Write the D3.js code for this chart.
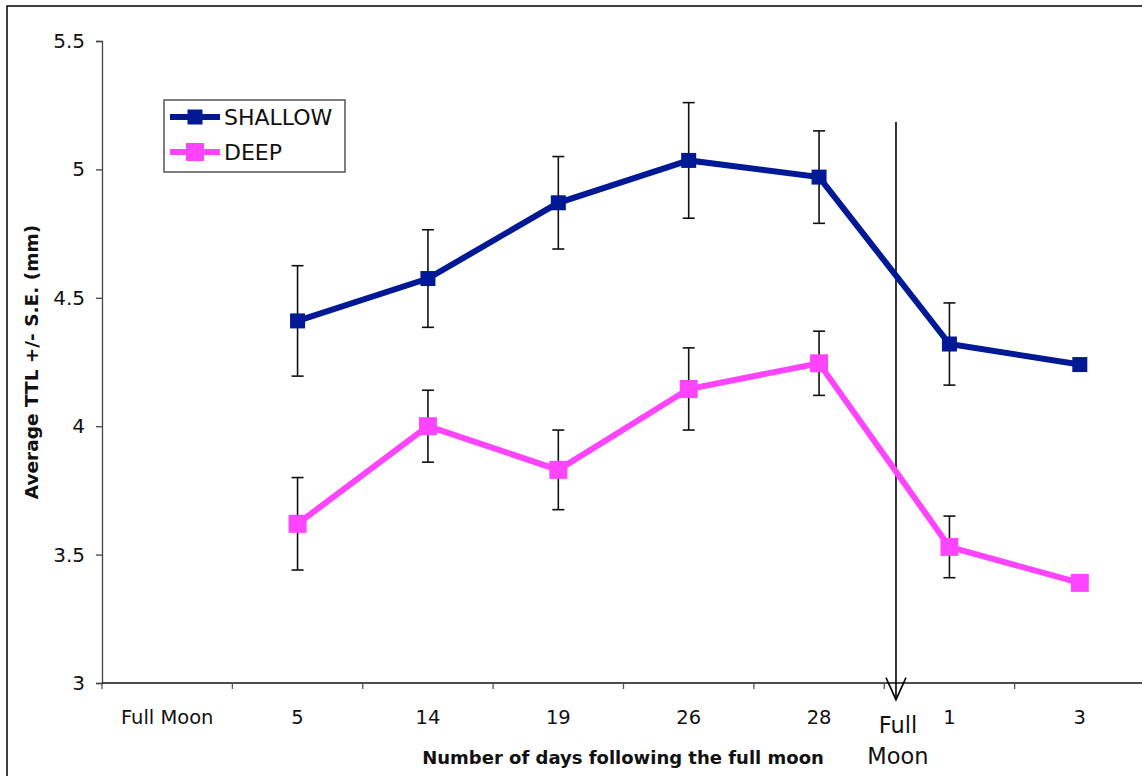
<!DOCTYPE html>
<html>
<head>
<meta charset="utf-8">
<script src="https://cdn.jsdelivr.net/npm/d3@7"></script>
<style>
  html, body { margin: 0; padding: 0; background: #fff; }
  svg { display: block; font-family: "DejaVu Sans", Verdana, sans-serif; }
</style>
</head>
<body>
<div id="chart"></div>
<script>
// Data
const categories = ["Full Moon", "5", "14", "19", "26", "28", "1", "3"];
const shallowMean = [null, 4.41, 4.575, 4.87, 5.035, 4.97, 4.32, 4.24];
const shallowSE   = [null, 0.215, 0.19, 0.18, 0.225, 0.18, 0.16, 0];
const deepMean    = [null, 3.62, 4.0, 3.83, 4.145, 4.245, 3.53, 3.39];
const deepSE      = [null, 0.18, 0.14, 0.155, 0.16, 0.125, 0.12, 0];
const yTicks = [3, 3.5, 4, 4.5, 5, 5.5];
const fullMoonPos = 6.09; // in category units, just past the "28" / "1" boundary

const width = 1142;
const height = 776;
const margin = { left: 102, right: -3, top: 41, bottom: 93 };

const svg = d3.select("#chart").append("svg")
    .attr("width", width)
    .attr("height", height);

// outer frame of the chart area
svg.append("rect")
    .attr("x", 7).attr("y", 6)
    .attr("width", 1200).attr("height", 900)
    .attr("fill", "none")
    .attr("stroke", "#000")
    .attr("stroke-width", 1.5);

const x = d3.scaleBand()
    .domain(categories)
    .range([margin.left, width - margin.right])
    .padding(0);

const xPos = d3.scaleLinear()
    .domain([0, categories.length])
    .range([margin.left, width - margin.right]);

const y = d3.scaleLinear()
    .domain([3, 5.5])
    .range([height - margin.bottom, margin.top]);

// Y axis
const yAxis = d3.axisLeft(y)
    .tickValues(yTicks)
    .tickFormat(d => d)
    .tickSize(6)
    .tickPadding(11);

const gy = svg.append("g")
    .attr("transform", `translate(${margin.left},0)`)
    .call(yAxis);
gy.attr("font-family", null);
gy.select(".domain").attr("stroke", "#444").attr("stroke-width", 1.3);
gy.selectAll(".tick line").attr("stroke", "#444").attr("stroke-width", 1.3);
gy.selectAll(".tick text")
    .attr("font-size", 20)
    .attr("fill", "#111");

// X axis: line + ticks at category boundaries
const gx = svg.append("g");
gx.append("line")
    .attr("x1", xPos(0)).attr("x2", xPos(categories.length))
    .attr("y1", y(3)).attr("y2", y(3))
    .attr("stroke", "#111").attr("stroke-width", 1.3);
gx.selectAll("line.tick")
    .data(d3.range(categories.length + 1))
    .join("line")
    .attr("class", "tick")
    .attr("x1", d => xPos(d)).attr("x2", d => xPos(d))
    .attr("y1", y(3)).attr("y2", y(3) + 6)
    .attr("stroke", "#555").attr("stroke-width", 1.3);
gx.selectAll("text.lab")
    .data(categories)
    .join("text")
    .attr("class", "lab")
    .attr("x", d => x(d) + x.bandwidth() / 2)
    .attr("y", y(3) + 41)
    .attr("text-anchor", "middle")
    .attr("font-size", 19.5)
    .attr("fill", "#111")
    .text(d => d);

// Axis titles
svg.append("text")
    .attr("x", 623)
    .attr("y", 764)
    .attr("text-anchor", "middle")
    .attr("font-size", 18)
    .attr("font-weight", "bold")
    .attr("fill", "#111")
    .text("Number of days following the full moon");

svg.append("text")
    .attr("transform", `translate(38,${362}) rotate(-90)`)
    .attr("text-anchor", "middle")
    .attr("font-size", 18.5)
    .attr("font-weight", "bold")
    .attr("fill", "#111")
    .text("Average TTL +/- S.E. (mm)");

// Full moon marker: vertical line with open arrowhead
const fmX = xPos(fullMoonPos);
const fm = svg.append("g").attr("stroke", "#000").attr("stroke-width", 1.6).attr("fill", "none");
fm.append("line")
    .attr("x1", fmX).attr("x2", fmX)
    .attr("y1", y(5.185)).attr("y2", y(2.935));
fm.append("path")
    .attr("d", `M${fmX - 10},${y(2.935) - 22} L${fmX},${y(2.935)} L${fmX + 10},${y(2.935) - 22}`);

svg.append("text")
    .attr("x", fmX + 2).attr("y", y(3) + 50)
    .attr("text-anchor", "middle")
    .attr("font-size", 22.5)
    .attr("fill", "#111")
    .text("Full");
svg.append("text")
    .attr("x", fmX + 2).attr("y", y(3) + 81)
    .attr("text-anchor", "middle")
    .attr("font-size", 22.5)
    .attr("fill", "#111")
    .text("Moon");

// Series
const series = [
    { name: "SHALLOW", mean: shallowMean, se: shallowSE, color: "#021996", size: 15 },
    { name: "DEEP", mean: deepMean, se: deepSE, color: "#FF44FF", size: 18 }
];

const line = d3.line()
    .defined(d => d.v != null)
    .x(d => x(d.c) + x.bandwidth() / 2)
    .y(d => y(d.v));

series.forEach(s => {
    const pts = categories.map((c, i) => ({ c, v: s.mean[i], e: s.se[i] }));
    const valid = pts.filter(d => d.v != null);

    svg.append("path")
        .datum(valid)
        .attr("d", line)
        .attr("fill", "none")
        .attr("stroke", s.color)
        .attr("stroke-width", 6);

    // error bars
    const eb = svg.append("g").attr("stroke", "#111").attr("stroke-width", 1.6);
    valid.filter(d => d.e > 0).forEach(d => {
        const cx = x(d.c) + x.bandwidth() / 2;
        eb.append("line").attr("x1", cx).attr("x2", cx).attr("y1", y(d.v + d.e)).attr("y2", y(d.v - d.e));
        eb.append("line").attr("x1", cx - 6).attr("x2", cx + 6).attr("y1", y(d.v + d.e)).attr("y2", y(d.v + d.e));
        eb.append("line").attr("x1", cx - 6).attr("x2", cx + 6).attr("y1", y(d.v - d.e)).attr("y2", y(d.v - d.e));
    });

    svg.append("g").selectAll("rect")
        .data(valid)
        .join("rect")
        .attr("x", d => x(d.c) + x.bandwidth() / 2 - s.size / 2)
        .attr("y", d => y(d.v) - s.size / 2)
        .attr("width", s.size)
        .attr("height", s.size)
        .attr("fill", s.color);
});

// Legend
const legend = svg.append("g").attr("transform", "translate(164,100)");
legend.append("rect")
    .attr("width", 181).attr("height", 72)
    .attr("fill", "#fff")
    .attr("stroke", "#555").attr("stroke-width", 1.5);
series.forEach((s, i) => {
    const ly = 17 + i * 35;
    legend.append("line")
        .attr("x1", 6).attr("x2", 56)
        .attr("y1", ly).attr("y2", ly)
        .attr("stroke", s.color).attr("stroke-width", 6);
    legend.append("rect")
        .attr("x", 31 - s.size / 2).attr("y", ly - s.size / 2)
        .attr("width", s.size).attr("height", s.size)
        .attr("fill", s.color);
    legend.append("text")
        .attr("x", 60).attr("y", ly + 8)
        .attr("font-size", 22)
        .attr("fill", "#111")
        .text(s.name);
});
</script>
</body>
</html>
